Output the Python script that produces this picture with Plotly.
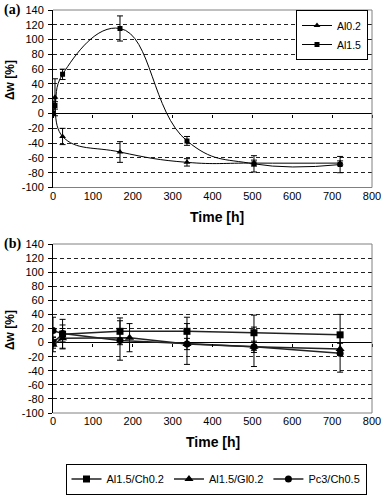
import plotly.graph_objects as go

# ---------------- data ----------------
# Panel (a)
a_time = [0, 5, 24, 168, 336, 504, 720]
a_al02 = [0, 22, -31, -52, -66, -67, -67]
a_al02_err = [0, 25, 11, 14, 5, 4, 3]
a_al15 = [0, 11, 53, 115, -37, -68, -69]
a_al15_err = [0, 5, 7, 17, 6, 11, 11]

# Panel (b)
b_time_ch = [0, 24, 168, 336, 504, 720]
b_al15ch = [0, 12, 16, 16, 14, 11]
b_al15ch_err = [8, 21, 19, 20, 25, 29]
b_time_gl = [0, 24, 192, 336, 504, 720]
b_al15gl = [-3, 6, 7, -2, -6, -9]
b_al15gl_err = [10, 14, 20, 8, 8, 8]
b_time_pc = [0, 24, 168, 336, 504, 720]
b_pc3 = [17, 13, 3, -2, -6, -15]
b_pc3_err = [19, 12, 28, 29, 28, 27]

x_ticks = [0, 100, 200, 300, 400, 500, 600, 700, 800]
y_ticks = [-100, -80, -60, -40, -20, 0, 20, 40, 60, 80, 100, 120, 140]
x_range = [0, 800]
y_range = [-100, 140]

# ---------------- layout geometry ----------------
W, H = 383, 495
FONT = "Arial, Liberation Sans, sans-serif"
xdom = [53 / W, 372 / W]
ydom_a = [(H - 187.5) / H, (H - 10) / H]
ydom_b = [(H - 413) / H, (H - 244) / H]


def zero_pos(dom):
    return dom[0] + (0 - y_range[0]) / (y_range[1] - y_range[0]) * (dom[1] - dom[0])


fig = go.Figure()

err_style = dict(type="data", visible=True, color="black", thickness=1, width=3)

# Panel (a) traces
fig.add_trace(go.Scatter(
    x=a_time, y=a_al02, name="Al0.2", mode="lines+markers",
    line=dict(color="black", width=1, shape="spline", smoothing=1.3),
    marker=dict(symbol="triangle-up", size=6, color="black"),
    error_y=dict(array=a_al02_err, **err_style),
    xaxis="x", yaxis="y", legend="legend",
))
fig.add_trace(go.Scatter(
    x=a_time, y=a_al15, name="Al1.5", mode="lines+markers",
    line=dict(color="black", width=1, shape="spline", smoothing=1.3),
    marker=dict(symbol="square", size=5, color="black"),
    error_y=dict(array=a_al15_err, **err_style),
    xaxis="x", yaxis="y", legend="legend",
))

# Panel (b) traces
fig.add_trace(go.Scatter(
    x=b_time_ch, y=b_al15ch, name="Al1.5/Ch0.2", mode="lines+markers",
    line=dict(color="#222222", width=1.5),
    marker=dict(symbol="square", size=7, color="black"),
    error_y=dict(array=b_al15ch_err, **err_style),
    xaxis="x2", yaxis="y2", legend="legend2",
))
fig.add_trace(go.Scatter(
    x=b_time_gl, y=b_al15gl, name="Al1.5/Gl0.2", mode="lines+markers",
    line=dict(color="#222222", width=1.5),
    marker=dict(symbol="triangle-up", size=8, color="black"),
    error_y=dict(array=b_al15gl_err, **err_style),
    xaxis="x2", yaxis="y2", legend="legend2",
))
fig.add_trace(go.Scatter(
    x=b_time_pc, y=b_pc3, name="Pc3/Ch0.5", mode="lines+markers",
    line=dict(color="#222222", width=1.5),
    marker=dict(symbol="circle", size=7, color="black"),
    error_y=dict(array=b_pc3_err, **err_style),
    xaxis="x2", yaxis="y2", legend="legend2",
))

# invisible helpers so the tick axes on the zero line are drawn
fig.add_trace(go.Scatter(x=[x_ticks[0]], y=[y_ticks[0]], xaxis="x3", yaxis="y",
                         mode="markers", marker=dict(opacity=0), showlegend=False,
                         hoverinfo="skip"))
fig.add_trace(go.Scatter(x=[x_ticks[0]], y=[y_ticks[0]], xaxis="x4", yaxis="y2",
                         mode="markers", marker=dict(opacity=0), showlegend=False,
                         hoverinfo="skip"))

tickfont = dict(family=FONT, size=11, color="black")

xcommon = dict(range=x_range, tickvals=x_ticks, ticktext=[str(v) for v in x_ticks],
               showgrid=False, zeroline=False, automargin=False,
               showline=False, ticks="", tickfont=tickfont, fixedrange=True)
ycommon = dict(range=y_range, tickvals=y_ticks, ticktext=[str(v) for v in y_ticks],
               showgrid=True, gridcolor="#222222", automargin=False,
               griddash="4px,3px", gridwidth=1, zeroline=True, zerolinecolor="black",
               zerolinewidth=1, showline=True, linecolor="black", linewidth=1,
               ticks="outside", ticklen=4, tickcolor="black", tickfont=tickfont,
               ticklabelstandoff=2, fixedrange=True)
tickaxis = dict(range=x_range, tickvals=x_ticks, showgrid=False, zeroline=False,
                showline=False, ticks="outside", ticklen=3, tickcolor="black",
                showticklabels=False, anchor="free", automargin=False)

fig.update_layout(
    template="none",
    width=W, height=H,
    margin=dict(l=0, r=0, t=0, b=0, autoexpand=False),
    paper_bgcolor="white", plot_bgcolor="white",
    font=dict(family=FONT, size=11, color="black"),
    xaxis=dict(domain=xdom, anchor="y", **xcommon),
    yaxis=dict(domain=ydom_a, anchor="x", **ycommon),
    xaxis2=dict(domain=xdom, anchor="y2", **xcommon),
    yaxis2=dict(domain=ydom_b, anchor="x2", **ycommon),
    xaxis3=dict(overlaying="x", position=zero_pos(ydom_a), **tickaxis),
    xaxis4=dict(overlaying="x2", position=zero_pos(ydom_b), **tickaxis),
    legend=dict(x=368 / W, xanchor="right", y=(H - 10) / H, yanchor="top",
                bgcolor="white", bordercolor="black", borderwidth=1,
                font=dict(family=FONT, size=10.5), itemwidth=30, tracegroupgap=0),
    legend2=dict(orientation="h", x=216 / W, xanchor="center", y=(H - 479) / H,
                 yanchor="middle", bgcolor="white", bordercolor="black", borderwidth=1,
                 font=dict(family=FONT, size=11), itemwidth=30),
    showlegend=True,
)

# gray plot-area frame (top, right, bottom)
for xa, ya in (("x", "y"), ("x2", "y2")):
    for x0, y0, x1, y1 in ((0, 1, 1, 1), (1, 0, 1, 1), (0, 0, 1, 0)):
        fig.add_shape(type="line", xref=f"{xa} domain", yref=f"{ya} domain",
                      x0=x0, y0=y0, x1=x1, y1=y1, layer="above",
                      line=dict(color="#808080", width=1))

ann = []
ann.append(dict(text="<b>(a)</b>", x=2 / W, y=(H - 10) / H, xref="paper", yref="paper",
                xanchor="left", yanchor="middle", showarrow=False,
                font=dict(family="Liberation Serif, Times New Roman, serif", size=14)))
ann.append(dict(text="<b>(b)</b>", x=2 / W, y=(H - 244) / H, xref="paper", yref="paper",
                xanchor="left", yanchor="middle", showarrow=False,
                font=dict(family="Liberation Serif, Times New Roman, serif", size=14)))
for yc in (80, 330):
    ann.append(dict(text="<b>Δw [%]</b>", x=10 / W, y=(H - yc) / H, xref="paper",
                    yref="paper", xanchor="center", yanchor="middle", textangle=-90,
                    showarrow=False, font=dict(family=FONT, size=12)))
for xc, yc in ((216.5, 216.5), (213, 441.7)):
    ann.append(dict(text="<b>Time [h]</b>", x=xc / W, y=(H - yc) / H, xref="paper",
                    yref="paper", xanchor="center", yanchor="middle",
                    showarrow=False, font=dict(family=FONT, size=14)))
fig.update_layout(annotations=ann)

fig.write_html(
    "out.html",
    config={"displayModeBar": False, "staticPlot": False},
    post_script="document.body.style.margin='0';document.body.style.padding='0';"
                "document.documentElement.style.overflow='hidden';",
)
